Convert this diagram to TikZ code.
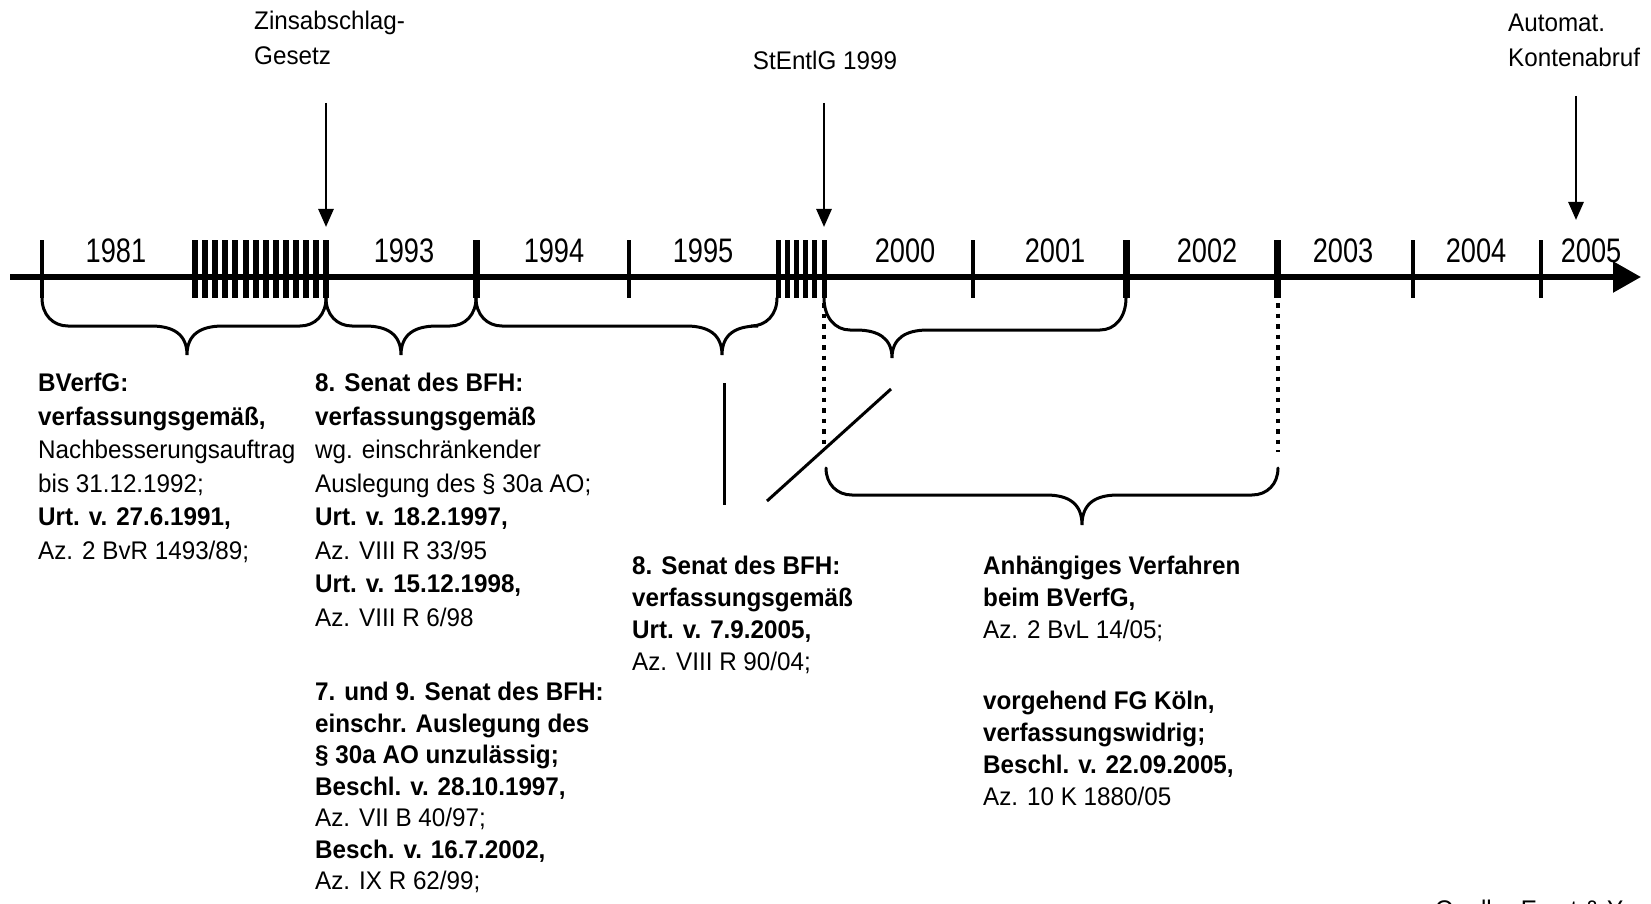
\documentclass[tikz,border=0pt]{standalone}
\usepackage{fontspec}
\setmainfont{Liberation Sans}
\newfontfamily\bodyfont[FakeStretch=0.95]{Liberation Sans}
\newfontfamily\yearfont[FakeStretch=0.8]{Liberation Sans}
\usetikzlibrary{arrows.meta}
\newcommand{\tlbrace}[6]{%
  \draw[bracestyle] (#1,#4) .. controls (#1,{#4+0.6*(#5-#4)}) and ({#1+11},#5) .. ({#1+26},#5)
    -- ({#3-36},#5) .. controls ({#3-14},#5) and (#3,{#5+8}) .. (#3,#6)
    .. controls (#3,{#5+8}) and ({#3+14},#5) .. ({#3+36},#5)
    -- ({#2-26},#5) .. controls ({#2-11},#5) and (#2,{#4+0.6*(#5-#4)}) .. (#2,#4);}
\begin{document}
\begin{tikzpicture}[x=1pt,y=-1pt,
  bracestyle/.style={line width=3pt,line cap=round},
  yearlbl/.style={inner sep=0pt,font=\yearfont\fontsize{34pt}{34pt}\selectfont},
  toplbl/.style={inner sep=0pt,align=left,font=\bodyfont\fontsize{25.5pt}{35pt}\selectfont},
  txtA/.style={inner sep=0pt,align=left,anchor=north west,font=\bodyfont\fontsize{25.5pt}{33.5pt}\selectfont},
  txtB/.style={inner sep=0pt,align=left,anchor=north west,font=\bodyfont\fontsize{25.5pt}{31.5pt}\selectfont},
  txtC/.style={inner sep=0pt,align=left,anchor=north west,font=\bodyfont\fontsize{25.5pt}{32pt}\selectfont},
  downarrow/.style={line width=2.8pt,-{Triangle[length=18pt,width=15pt]}},
  axisline/.style={line width=5.5pt,-{Triangle[length=28pt,width=30pt]}},
  dotline/.style={line width=4.5pt,dash pattern=on 4.5pt off 6pt},
  plainline/.style={line width=3pt}]
\useasboundingbox (0,0) rectangle (1651,904);
\fill[white] (0,0) rectangle (1651,904);

% axis
\coordinate (axL) at (10,277);
\coordinate (axR) at (1641,277);
\draw[axisline] (axL) -- (axR);

% ticks
\foreach \x/\w in {42/4.5,476/7,629/4.5,973/4.5,1126/7,1277/7,1413/4.5,1541/4.5}
  \draw[line width=\w pt] (\x,240) -- (\x,298);
\foreach \i in {0,...,13}
  \draw[line width=6pt] ({195+\i*10.1},240) -- ({195+\i*10.1},298);
\foreach \i in {0,...,5}
  \draw[line width=5pt] ({778+\i*9.2},240) -- ({778+\i*9.2},298);

% years
\node[yearlbl] (y1981) at (116,251) {1981};
\node[yearlbl] (y1993) at (404,251) {1993};
\node[yearlbl] (y1994) at (554,251) {1994};
\node[yearlbl] (y1995) at (703,251) {1995};
\node[yearlbl] (y2000) at (905,251) {2000};
\node[yearlbl] (y2001) at (1055,251) {2001};
\node[yearlbl] (y2002) at (1207,251) {2002};
\node[yearlbl] (y2003) at (1343,251) {2003};
\node[yearlbl] (y2004) at (1476,251) {2004};
\node[yearlbl] (y2005) at (1591,251) {2005};

% top labels and arrows
\node[toplbl,anchor=north west] (zins) at (254,11) {Zinsabschlag-\\Gesetz};
\node[toplbl,anchor=north] (stent) at (825,51) {StEntlG 1999};
\node[toplbl,anchor=north west] (autom) at (1508,14) {Automat.\\Kontenabruf};
\coordinate (zinsA) at (326,103); \coordinate (zinsB) at (326,227);
\coordinate (stentA) at (824,103); \coordinate (stentB) at (824,227);
\coordinate (automA) at (1576,96); \coordinate (automB) at (1576,220);
\draw[downarrow] (zinsA) -- (zinsB);
\draw[downarrow] (stentA) -- (stentB);
\draw[downarrow] (automA) -- (automB);

% braces
\tlbrace{42}{326}{187}{298}{326}{355}
\tlbrace{326}{476}{401}{298}{326}{355}
\tlbrace{476}{777}{722}{298}{326}{355}
\tlbrace{824}{1126}{892}{298}{330}{358}
\tlbrace{826}{1278}{1082}{468}{495}{525}

% dotted and connecting lines
\coordinate (d1a) at (824,303); \coordinate (d1b) at (824,448);
\coordinate (d2a) at (1278,303); \coordinate (d2b) at (1278,452);
\draw[dotline] (d1a) -- (d1b);
\draw[dotline] (d2a) -- (d2b);
\coordinate (vA) at (724,383); \coordinate (vB) at (724,505);
\draw[plainline] (vA) -- (vB);
\coordinate (gA) at (767,501); \coordinate (gB) at (891,389);
\draw[plainline] (gA) -- (gB);

% text blocks
\node[txtA] (b1) at (38,373) {\textbf{BVerfG:}\\\textbf{verfassungsgemäß,}\\Nachbesserungsauftrag\\bis 31.12.1992;\\\textbf{Urt. v. 27.6.1991,}\\Az. 2 BvR 1493/89;};
\node[txtA] (b2) at (315,373) {\textbf{8. Senat des BFH:}\\\textbf{verfassungsgemäß}\\wg. einschränkender\\Auslegung des § 30a AO;\\\textbf{Urt. v. 18.2.1997,}\\Az. VIII R 33/95\\\textbf{Urt. v. 15.12.1998,}\\Az. VIII R 6/98};
\node[txtB] (b2b) at (315,682) {\textbf{7. und 9. Senat des BFH:}\\\textbf{einschr. Auslegung des}\\\textbf{§ 30a AO unzulässig;}\\\textbf{Beschl. v. 28.10.1997,}\\Az. VII B 40/97;\\\textbf{Besch. v. 16.7.2002,}\\Az. IX R 62/99;};
\node[txtC] (b3) at (632,556) {\textbf{8. Senat des BFH:}\\\textbf{verfassungsgemäß}\\\textbf{Urt. v. 7.9.2005,}\\Az. VIII R 90/04;};
\node[txtC] (b4) at (983,556) {\textbf{Anhängiges Verfahren}\\\textbf{beim BVerfG,}\\Az. 2 BvL 14/05;};
\node[txtC] (b4b) at (983,691) {\textbf{vorgehend FG Köln,}\\\textbf{verfassungswidrig;}\\\textbf{Beschl. v. 22.09.2005,}\\Az. 10 K 1880/05};

\begin{scope}
\clip (0,0) rectangle (1651,904);
\node[txtC] (src) at (1435,900) {Quelle: Ernst \& Young};
\end{scope}
\end{tikzpicture}
\end{document}
